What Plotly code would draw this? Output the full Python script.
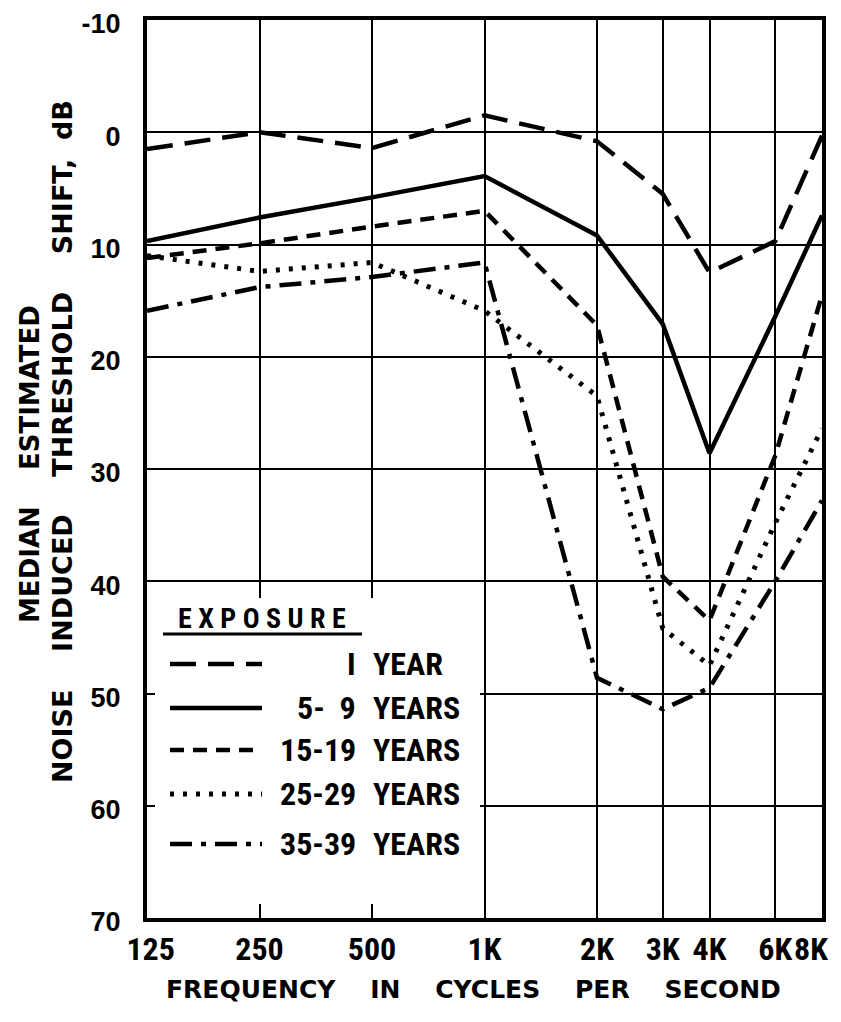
import plotly.graph_objects as go
import math

# ---- data ----
freqs = [125, 250, 500, 1000, 2000, 3000, 4000, 6000, 8000]
freq_labels = ["\u00a0125", "250", "500", "1K", "2K", "3K", "4K", "6K", "8K\u00a0\u00a0\u00a0"]
y_ticks = [-10, 0, 10, 20, 30, 40, 50, 60, 70]
y_labels = ["-10", "0", "10", "20", "30", "40", "50", "60", "70"]

exp_1 = [1.5, 0.0, 1.4, -1.5, 0.8, 5.5, 12.5, 9.7, 0.3]
exp_5_9 = [9.7, 7.6, 5.8, 3.9, 9.2, 17.1, 28.6, 16.4, 7.4]
exp_15_19 = [11.2, 9.9, 8.4, 7.0, 17.2, 39.6, 43.5, 28.8, 14.5]
exp_25_29 = [11.0, 12.4, 11.6, 15.9, 23.5, 44.2, 47.5, 34.8, 26.4]
exp_35_39 = [15.9, 13.8, 12.9, 11.6, 48.6, 51.4, 49.5, 40.0, 32.8]

series_names = ["1 YEAR", "5- 9 YEARS", "15-19 YEARS", "25-29 YEARS", "35-39 YEARS"]
legend_nums = ["I", "5-\u00a0\u00a09", "15-19", "25-29", "35-39"]
legend_words = ["YEAR", "YEARS", "YEARS", "YEARS", "YEARS"]
series_vals = [exp_1, exp_5_9, exp_15_19, exp_25_29, exp_35_39]

styles = [
    dict(dash="26px,12px", width=4.5),
    dict(dash="solid", width=4.5),
    dict(dash="14px,9px", width=4.5),
    dict(dash="4px,9px", width=5),
    dict(dash="22px,9px,5px,9px", width=4.5),
]

NARROW = "Roboto Condensed, Liberation Sans, sans-serif"
ARIAL = "Liberation Sans, Arial, sans-serif"
WIDE = "DejaVu Sans, Verdana, sans-serif"

fig = go.Figure()
for name, vals, st in zip(series_names, series_vals, styles):
    fig.add_trace(go.Scatter(
        x=freqs, y=vals, mode="lines", name=name,
        line=dict(color="black", width=st["width"], dash=st["dash"]),
        showlegend=False,
    ))

# the page body adds an 8px offset; target plot area in page pixels: x 147..822, y 20..918
OFF = 8
L, R, T, B = 147, 822, 20, 918
W, H = R - L, B - T
FIG_W, FIG_H = 841, 1022


def px(xp):
    return (xp - L) / W


def py(yp):
    return (B - yp) / H


shapes = []
# white legend box covering grid
shapes.append(dict(type="rect", xref="paper", yref="paper",
                   x0=px(155), x1=px(480), y0=py(904), y1=py(598),
                   fillcolor="white", line=dict(width=0), layer="above"))
# underline of header
shapes.append(dict(type="line", xref="paper", yref="paper",
                   x0=px(163), x1=px(362), y0=py(634), y1=py(634),
                   line=dict(color="black", width=3), layer="above"))

entry_y = [664, 708, 750, 794, 844]
annotations = []
for ey, st, num, word in zip(entry_y, styles, legend_nums, legend_words):
    shapes.append(dict(type="line", xref="paper", yref="paper",
                       x0=px(170), x1=px(262), y0=py(ey), y1=py(ey),
                       line=dict(color="black", width=st["width"], dash=st["dash"]),
                       layer="above"))
    annotations.append(dict(xref="paper", yref="paper", x=px(358), y=py(ey),
                            text="<b>%s</b>" % num, showarrow=False,
                            xanchor="right", yanchor="middle",
                            font=dict(family=NARROW, size=32, color="black")))
    annotations.append(dict(xref="paper", yref="paper", x=px(371), y=py(ey),
                            text="<b>%s</b>" % word, showarrow=False,
                            xanchor="left", yanchor="middle",
                            font=dict(family=NARROW, size=32, color="black")))

annotations.append(dict(xref="paper", yref="paper", x=px(262), y=py(618),
                        text="<b>E\u00a0X\u00a0P\u00a0O\u00a0S\u00a0U\u00a0R\u00a0E</b>",
                        showarrow=False, xanchor="center", yanchor="middle",
                        font=dict(family=NARROW, size=28, color="black")))

G4 = "\u00a0" * 4
# y-axis title (two lines)
annotations.append(dict(xref="paper", yref="paper", x=px(30), y=py(464),
                        text="<b>MEDIAN" + G4 + "ESTIMATED</b>", textangle=-90,
                        showarrow=False, xanchor="center", yanchor="middle",
                        font=dict(family=WIDE, size=26, color="black")))
annotations.append(dict(xref="paper", yref="paper", x=px(62), y=py(442),
                        text="<b>NOISE" + G4 + "INDUCED" + G4 + "THRESHOLD" + G4 + "SHIFT,\u00a0\u00a0dB</b>",
                        textangle=-90,
                        showarrow=False, xanchor="center", yanchor="middle",
                        font=dict(family=WIDE, size=27, color="black")))
# x-axis title
annotations.append(dict(xref="paper", yref="paper", x=px(473), y=py(990),
                        text="<b>FREQUENCY" + G4 + "IN" + G4 + "CYCLES" + G4 + "PER" + G4 + "SECOND</b>",
                        showarrow=False, xanchor="center", yanchor="middle",
                        font=dict(family=WIDE, size=25, color="black")))

fig.update_layout(
    width=FIG_W, height=FIG_H,
    margin=dict(l=L - OFF, r=FIG_W - (R - OFF), t=T - OFF, b=FIG_H - (B - OFF)),
    paper_bgcolor="white", plot_bgcolor="white",
    shapes=shapes, annotations=annotations,
    showlegend=False,
)
fig.update_xaxes(
    type="log", range=[math.log10(125) - 1e-5, math.log10(8000) + 1e-5],
    tickvals=freqs, ticktext=["<b>%s</b>" % t for t in freq_labels],
    tickfont=dict(family=NARROW, size=32, color="black"),
    tickangle=0,
    showgrid=True, gridcolor="black", gridwidth=2,
    showline=True, linecolor="black", linewidth=4, mirror=True,
    ticks="", zeroline=False, ticklabelstandoff=0, ticklabeloverflow="allow",
    automargin=False,
)
fig.update_yaxes(
    range=[70, -10], tickvals=y_ticks, ticktext=["<b>%s</b>" % t for t in y_labels],
    tickfont=dict(family=ARIAL, size=27, color="black"),
    showgrid=True, gridcolor="black", gridwidth=2,
    showline=True, linecolor="black", linewidth=4, mirror=True,
    ticks="", zeroline=False, ticklabelstandoff=17, ticklabeloverflow="allow",
    ticklabelshift=-4,
    automargin=False,
)

fig.write_html("out.html")
